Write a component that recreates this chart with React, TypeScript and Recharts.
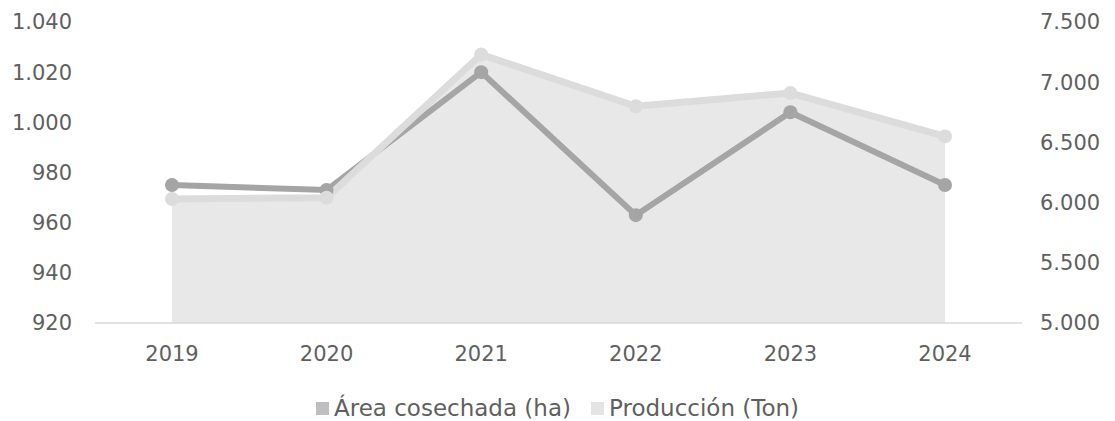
import React from 'react';
import {
  ComposedChart,
  Area,
  Line,
  XAxis,
  YAxis,
  Legend,
} from 'recharts';

const years = ['2019', '2020', '2021', '2022', '2023', '2024'];
const areaHa = [975, 973, 1020, 963, 1004, 975];
const produccionTon = [6030, 6040, 7230, 6800, 6910, 6550];
const leftTicks = [920, 940, 960, 980, 1000, 1020, 1040];
const rightTicks = [5000, 5500, 6000, 6500, 7000, 7500];

const data = years.map((year, i) => ({
  year,
  area: areaHa[i],
  produccion: produccionTon[i],
}));

const fmt = (v: number) => v.toLocaleString('de-DE');

const textColor = '#5f5f5f';
const font = '"DejaVu Sans", sans-serif';

function LegendContent() {
  const items = [
    { label: 'Área cosechada (ha)', color: '#bfbfbf' },
    { label: 'Producción (Ton)', color: '#e4e4e4' },
  ];
  return (
    <div style={{ display: 'flex', justifyContent: 'center', gap: 20, fontFamily: font, fontSize: 23, color: textColor }}>
      {items.map((it) => (
        <div key={it.label} style={{ display: 'flex', alignItems: 'center' }}>
          <span style={{ width: 13, height: 13, background: it.color, marginRight: 5, display: 'inline-block' }} />
          <span>{it.label}</span>
        </div>
      ))}
    </div>
  );
}

export default function App() {
  return (
    <div style={{ position: 'absolute', left: 0, top: 0, background: '#fff' }}>
      <ComposedChart
        width={1115}
        height={421}
        data={data}
        margin={{ top: 22, right: 0, left: 0, bottom: 0 }}
      >
        <XAxis
          dataKey="year"
          axisLine={{ stroke: '#d9d9d9', strokeWidth: 1.5 }}
          tickLine={false}
          tickSize={0}
          tickMargin={23}
          height={72}
          padding={{ left: 77, right: 77 }}
          tick={{ fill: textColor, fontSize: 21, fontFamily: font }}
        />
        <YAxis
          yAxisId="left"
          orientation="left"
          domain={[920, 1040]}
          ticks={leftTicks}
          tickFormatter={fmt}
          width={95}
          axisLine={false}
          tickLine={false}
          tickSize={0}
          tickMargin={23}
          tick={{ fill: textColor, fontSize: 21, fontFamily: font }}
        />
        <YAxis
          yAxisId="right"
          orientation="right"
          domain={[5000, 7500]}
          ticks={rightTicks}
          tickFormatter={fmt}
          width={93}
          axisLine={false}
          tickLine={false}
          tickSize={0}
          tickMargin={18}
          tick={{ fill: textColor, fontSize: 21, fontFamily: font, textAnchor: 'start' }}
        />
        <Legend verticalAlign="bottom" content={<LegendContent />} wrapperStyle={{ bottom: 0 }} />
        <Area
          yAxisId="right"
          type="linear"
          dataKey="produccion"
          fill="#e8e8e8"
          fillOpacity={1}
          stroke="none"
          legendType="none"
          isAnimationActive={false}
        />
        <Line
          yAxisId="left"
          type="linear"
          dataKey="area"
          name="Área cosechada (ha)"
          stroke="#a5a5a5"
          strokeWidth={6}
          dot={{ r: 7, fill: '#a5a5a5', stroke: 'none' }}
          activeDot={false}
          isAnimationActive={false}
        />
        <Line
          yAxisId="right"
          type="linear"
          dataKey="produccion"
          name="Producción (Ton)"
          stroke="#dcdcdc"
          strokeWidth={7}
          dot={{ r: 7, fill: '#dcdcdc', stroke: 'none' }}
          activeDot={false}
          isAnimationActive={false}
        />
      </ComposedChart>
    </div>
  );
}
